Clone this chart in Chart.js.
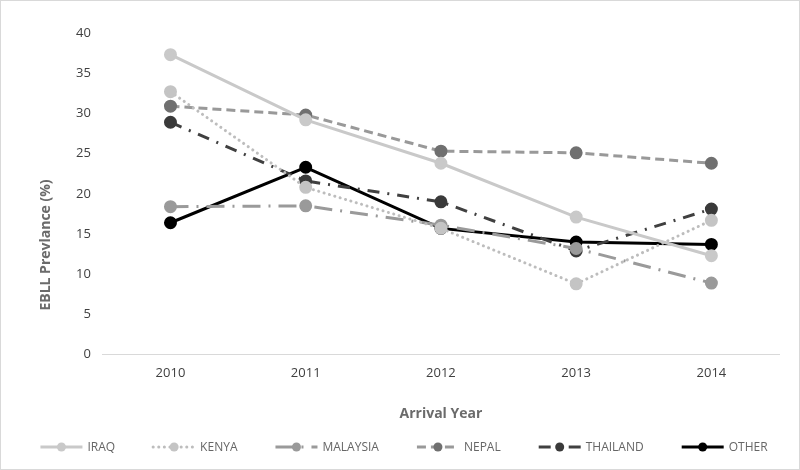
<!DOCTYPE html>
<html>
<head>
<meta charset="utf-8">
<script src="https://cdn.jsdelivr.net/npm/chart.js@4/dist/chart.umd.min.js"></script>
<style>
  html, body { margin: 0; padding: 0; background: #fff; }
  #wrap { width: 798px; height: 468px; border: 1px solid #d9d9d9; }
</style>
</head>
<body>
<div id="wrap"><canvas id="chart" width="798" height="468"></canvas></div>
<script>
const years = ["2010", "2011", "2012", "2013", "2014"];
const iraq = [37.3, 29.2, 23.8, 17.1, 12.3];
const kenya = [32.7, 20.8, 15.7, 8.8, 16.7];
const malaysia = [18.4, 18.5, 16.1, 13.2, 8.9];
const nepal = [30.9, 29.8, 25.3, 25.1, 23.8];
const thailand = [28.9, 21.6, 19.0, 12.9, 18.1];
const other = [16.4, 23.3, 15.7, 14.0, 13.7];
const yTicks = [0, 5, 10, 15, 20, 25, 30, 35, 40];

const tickColor = "#404040";
const titleColor = "#6b6b6b";
const legendColor = "#666666";
const font = "'Open Sans', 'Liberation Sans', sans-serif";

function series(label, data, color, pointColor, dash, cap) {
  return {
    label: label,
    data: data,
    borderColor: color,
    backgroundColor: pointColor,
    pointBackgroundColor: pointColor,
    pointBorderColor: pointColor,
    pointRadius: 5,
    pointHoverRadius: 5,
    borderWidth: 3,
    borderDash: dash,
    borderCapStyle: cap || "butt",
    tension: 0,
    fill: false
  };
}

const datasets = [
  series("IRAQ", iraq, "#c9c9c9", "#c9c9c9", []),
  series("KENYA", kenya, "#bdbdbd", "#c4c4c4", [0.1, 5.5], "round"),
  series("MALAYSIA", malaysia, "#9a9a9a", "#9a9a9a", [18, 8, 2, 8]),
  series("NEPAL", nepal, "#999999", "#707070", [9, 5]),
  series("THAILAND", thailand, "#404040", "#3a3a3a", [12, 8, 2, 8]),
  series("OTHER", other, "#000000", "#000000", [])
];

// y title (centred like the original, not on the axis) and the legend row
const extras = {
  id: "extras",
  afterDraw(chart) {
    const ctx = chart.ctx;
    ctx.save();
    ctx.fillStyle = titleColor;
    ctx.font = "bold 14px " + font;
    ctx.textAlign = "center";
    ctx.textBaseline = "middle";
    ctx.translate(45, 244);
    ctx.rotate(-Math.PI / 2);
    ctx.fillText("EBLL Prevlance (%)", 0, 0);
    ctx.restore();

    ctx.save();
    ctx.font = "12px " + font;
    const symW = 42, gap = 5, space = 38, y = 446;
    const widths = chart.data.datasets.map(ds => ctx.measureText(ds.label).width);
    const total = widths.reduce((s, w) => s + symW + gap + w, 0) + space * (widths.length - 1);
    let x = 403 - total / 2;
    chart.data.datasets.forEach((ds, i) => {
      ctx.strokeStyle = ds.borderColor;
      ctx.lineWidth = ds.borderWidth;
      ctx.lineCap = ds.borderCapStyle;
      ctx.setLineDash(ds.borderDash);
      ctx.beginPath();
      ctx.moveTo(x, y);
      ctx.lineTo(x + symW, y);
      ctx.stroke();
      ctx.setLineDash([]);
      ctx.fillStyle = ds.pointBackgroundColor;
      ctx.beginPath();
      ctx.arc(x + symW / 2, y, 4.5, 0, Math.PI * 2);
      ctx.fill();
      ctx.fillStyle = legendColor;
      ctx.textAlign = "left";
      ctx.textBaseline = "middle";
      ctx.fillText(ds.label, x + symW + gap, y + 1);
      x += symW + gap + widths[i] + space;
    });
    ctx.restore();
  }
};

new Chart(document.getElementById("chart"), {
  type: "line",
  data: { labels: years, datasets: datasets },
  plugins: [extras],
  options: {
    responsive: false,
    animation: false,
    layout: { padding: { left: 63, right: 20, top: 32, bottom: 47 } },
    scales: {
      x: {
        offset: true,
        grid: { display: false, drawTicks: false },
        border: { display: true, color: "#d9d9d9", width: 1 },
        ticks: { color: tickColor, font: { family: font, size: 13 }, padding: 11 },
        title: {
          display: true,
          text: "Arrival Year",
          color: titleColor,
          font: { family: font, size: 14, weight: "bold" },
          padding: { top: 13, bottom: 0 }
        }
      },
      y: {
        min: 0,
        max: 40,
        afterBuildTicks: axis => { axis.ticks = yTicks.map(v => ({ value: v })); },
        grid: { display: false, drawTicks: false },
        border: { display: false },
        ticks: { color: tickColor, font: { family: font, size: 13 }, padding: 12 }
      }
    },
    plugins: {
      tooltip: { enabled: false },
      legend: { display: false }
    }
  }
});
</script>
</body>
</html>
